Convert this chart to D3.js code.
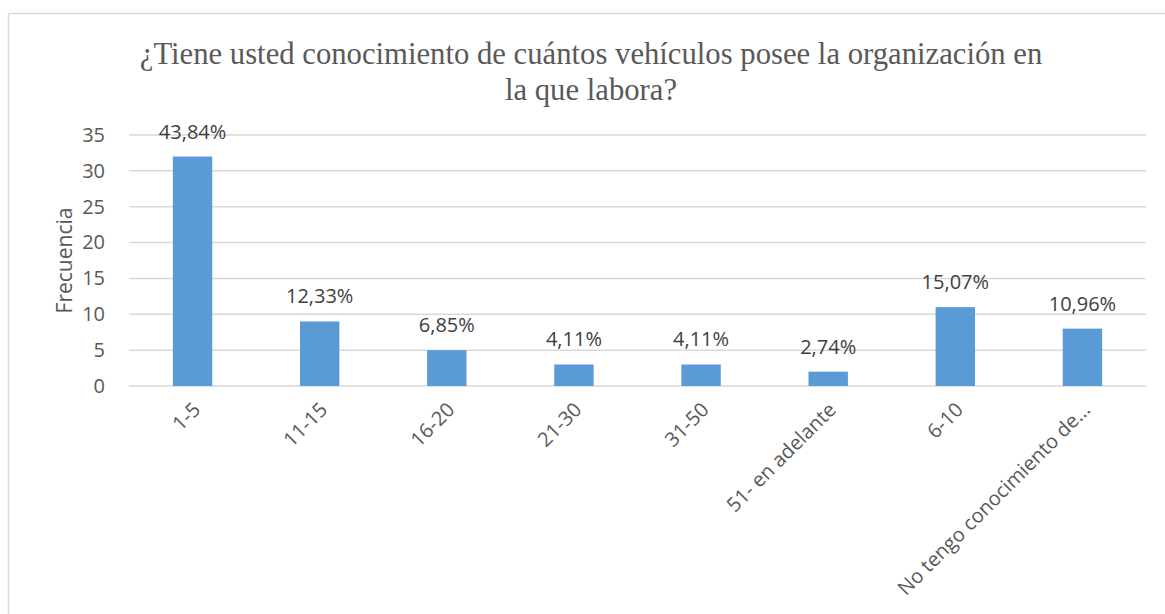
<!DOCTYPE html>
<html>
<head>
<meta charset="utf-8">
<script src="https://cdn.jsdelivr.net/npm/d3@7"></script>
<style>
  body { margin: 0; background: #fff; }
  #canvas { width: 1165px; height: 614px; }
</style>
</head>
<body>
<div id="canvas"></div>
<script>
const w = 1165, h = 614;

const categories = ["1-5", "11-15", "16-20", "21-30", "31-50", "51- en adelante", "6-10", "No tengo conocimiento de..."];
const values = [32, 9, 5, 3, 3, 2, 11, 8];
const percents = ["43,84%", "12,33%", "6,85%", "4,11%", "4,11%", "2,74%", "15,07%", "10,96%"];
const yTicks = [0, 5, 10, 15, 20, 25, 30, 35];

const margin = {left: 129, right: 19, top: 135, bottom: 228};

let svg = d3.select("#canvas")
    .append("svg")
        .attr("width", w)
        .attr("height", h)
        .attr("viewBox", [0, 0, w, h]);

// chart frame (only top and left edges are visible)
svg.append("line")
    .attr("x1", 8.5).attr("y1", 13.5).attr("x2", w).attr("y2", 13.5)
    .attr("stroke", "#d9d9d9").attr("stroke-width", 1.5);
svg.append("line")
    .attr("x1", 8.5).attr("y1", 13.5).attr("x2", 8.5).attr("y2", h)
    .attr("stroke", "#d9d9d9").attr("stroke-width", 1.5);

let x = d3.scaleBand()
    .domain(categories)
    .range([margin.left, w - margin.right])
    .paddingInner(0.69)
    .paddingOuter(0.345);

let y = d3.scaleLinear()
    .domain([0, 35])
    .range([h - margin.bottom, margin.top]);

// gridlines
svg.append("g")
    .selectAll("line")
    .data(yTicks)
    .enter().append("line")
        .attr("x1", margin.left)
        .attr("x2", w - margin.right)
        .attr("y1", d => y(d))
        .attr("y2", d => y(d))
        .attr("stroke", "#d9d9d9")
        .attr("stroke-width", 1.5);

// y axis labels
let yAxis = d3.axisLeft(y)
    .tickValues(yTicks)
    .tickSize(0)
    .tickPadding(24);
let gY = svg.append("g")
    .attr("transform", "translate(" + margin.left + ",0)")
    .call(yAxis);
gY.select(".domain").remove();
gY.selectAll("text")
    .attr("fill", "#595959")
    .attr("font-family", "Open Sans, sans-serif")
    .attr("font-size", 20);

// bars
svg.append("g")
    .selectAll("rect")
    .data(values)
    .enter().append("rect")
        .attr("x", (d, i) => x(categories[i]))
        .attr("y", d => y(d))
        .attr("width", x.bandwidth())
        .attr("height", d => y(0) - y(d))
        .attr("fill", "#5b9bd5");

// data labels
svg.append("g")
    .selectAll("text")
    .data(values)
    .enter().append("text")
        .attr("x", (d, i) => x(categories[i]) + x.bandwidth() / 2)
        .attr("y", d => y(d) - 18)
        .attr("text-anchor", "middle")
        .attr("fill", "#404040")
        .attr("font-family", "Open Sans, sans-serif")
        .attr("font-size", 20)
        .text((d, i) => percents[i]);

// x axis labels
let xAxis = d3.axisBottom(x).tickSize(0).tickPadding(0);
let gX = svg.append("g")
    .attr("transform", "translate(0," + y(0) + ")")
    .call(xAxis);
gX.select(".domain").remove();
gX.selectAll("text")
    .attr("fill", "#595959")
    .attr("font-family", "Open Sans, sans-serif")
    .attr("font-size", 20)
    .attr("text-anchor", "end")
    .attr("dy", null)
    .attr("y", null)
    .attr("transform", "translate(9,25) rotate(-45)");

// y axis title
svg.append("text")
    .attr("transform", "translate(72," + ((y(0) + y(35)) / 2) + ") rotate(-90)")
    .attr("text-anchor", "middle")
    .attr("fill", "#595959")
    .attr("font-family", "Open Sans, sans-serif")
    .attr("font-size", 21)
    .text("Frecuencia");

// title
const titleLines = ["¿Tiene usted conocimiento de cuántos vehículos posee la organización en", "la que labora?"];
svg.append("g")
    .selectAll("text")
    .data(titleLines)
    .enter().append("text")
        .attr("x", 591)
        .attr("y", (d, i) => 64 + i * 36)
        .attr("text-anchor", "middle")
        .attr("fill", "#595959")
        .attr("font-family", "Liberation Serif, Times New Roman, serif")
        .attr("font-size", 30.7)
        .text(d => d);
</script>
</body>
</html>
